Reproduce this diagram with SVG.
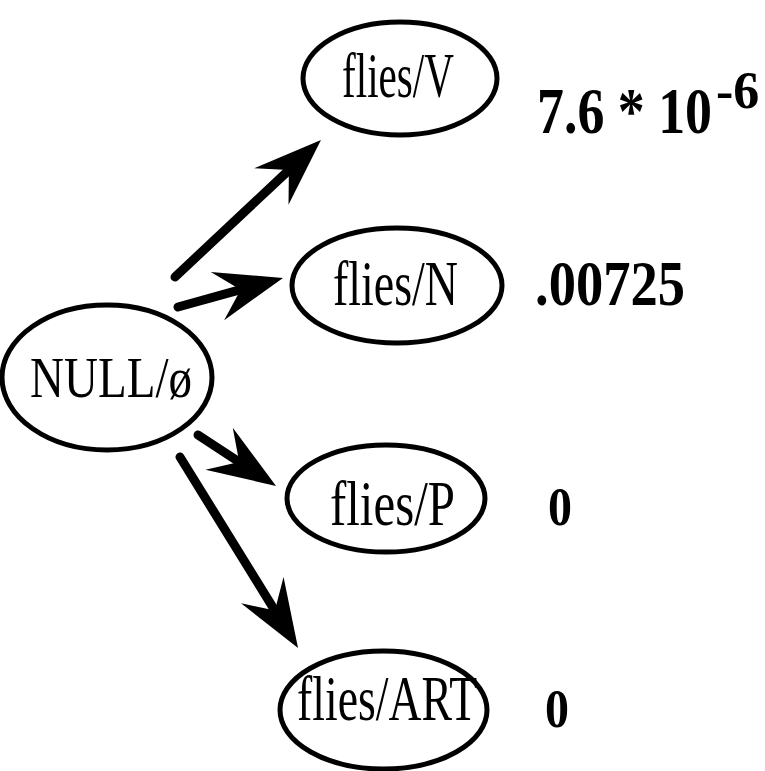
<svg xmlns="http://www.w3.org/2000/svg" width="765" height="771" viewBox="0 0 765 771">
  <style>
    .node { fill: none; stroke: #000; stroke-width: 5; }
    .lbl { font-family: "Liberation Serif", "Times New Roman", serif; font-size: 64px; fill: #000; }
    .lbl.root { font-size: 58px; }
    .num { font-family: "Liberation Serif", "Times New Roman", serif; font-weight: bold; fill: #000; }
    .edge { fill: none; stroke: #000; stroke-width: 9; stroke-linecap: round; }
  </style>
  <defs>
    <!-- barbed head; origin sits at the notch where the shaft ends -->
    <marker id="head" markerUnits="userSpaceOnUse" markerWidth="80" markerHeight="60"
            viewBox="-28 -30 80 60" refX="0" refY="0" orient="auto" overflow="visible">
      <path d="M44,0 L-24,-25 L0,0 L-24,25 Z" fill="#000"/>
    </marker>
  </defs>
  <rect width="765" height="771" fill="#fff"/>

  <g id="connectors">
    <path class="edge" d="M175,277 L288.9,170.1" marker-end="url(#head)"/>
    <path class="edge" d="M178,307 L240.6,289.7" marker-end="url(#head)"/>
    <path class="edge" d="M198,435 L239.2,461.9" marker-end="url(#head)"/>
    <path class="edge" d="M180,457 L274.9,610.6" marker-end="url(#head)"/>
  </g>

  <!-- labels are set in a tall, horizontally condensed serif -->
  <g id="null">
    <ellipse class="node" cx="107" cy="377.5" rx="105" ry="72.5"/>
    <text class="lbl root" transform="translate(30,397) scale(0.811,1)">NULL/ø</text>
  </g>

  <g id="flies-v">
    <ellipse class="node" cx="400" cy="78.5" rx="97" ry="56.5"/>
    <text class="lbl" transform="translate(342,97) scale(0.643,1)">flies/V</text>
    <text class="num" font-size="66" transform="translate(537,133) scale(0.816,1)">7.6 * 10</text>
    <text class="num" font-size="52" transform="translate(716,108)">-6</text>
  </g>

  <g id="flies-n">
    <ellipse class="node" cx="397" cy="285.5" rx="105" ry="57.5"/>
    <text class="lbl" transform="translate(333,305) scale(0.718,1)">flies/N</text>
    <text class="num" font-size="64" transform="translate(535,305) scale(0.852,1)">.00725</text>
  </g>

  <g id="flies-p">
    <ellipse class="node" cx="386" cy="498.5" rx="99" ry="53.5"/>
    <text class="lbl" transform="translate(330,525) scale(0.764,1)">flies/P</text>
    <text class="num" font-size="55" transform="translate(548,525) scale(0.873,1)">0</text>
  </g>

  <g id="flies-art">
    <ellipse class="node" cx="383.5" cy="710" rx="103.5" ry="59"/>
    <text class="lbl" transform="translate(297,720) scale(0.715,1)">flies/ART</text>
    <text class="num" font-size="55" transform="translate(545,727) scale(0.873,1)">0</text>
  </g>
</svg>
